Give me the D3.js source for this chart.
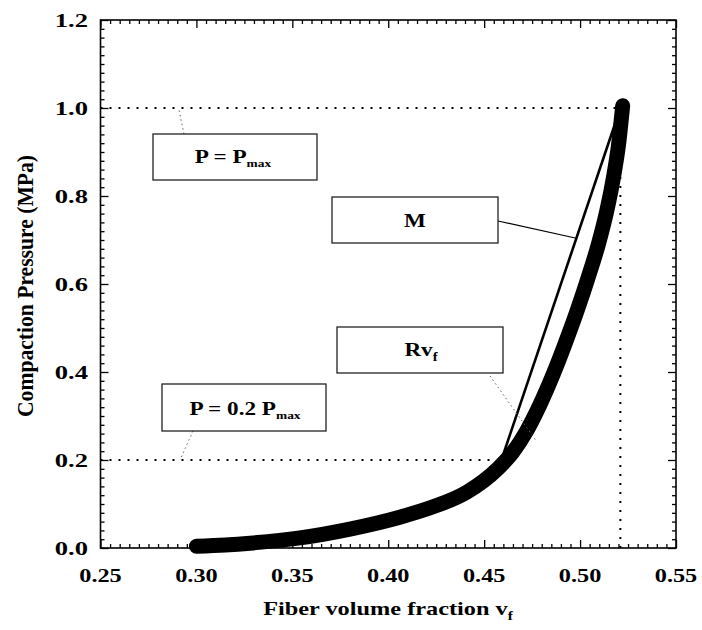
<!DOCTYPE html>
<html>
<head>
<meta charset="utf-8">
<script src="https://cdn.jsdelivr.net/npm/d3@7"></script>
<style>
  html, body { margin: 0; padding: 0; background: #fff; }
  svg { display: block; }
</style>
</head>
<body>
<svg id="chart" width="702" height="630"></svg>
<script>
// ---------------- data ----------------
const fiberVf = [0.300, 0.315, 0.328, 0.354, 0.380, 0.406, 0.423, 0.441, 0.457, 0.465, 0.472, 0.479, 0.486, 0.4925, 0.4985, 0.504, 0.5095, 0.514, 0.5175, 0.520, 0.5222];
const pressure = [0.004, 0.007, 0.011, 0.023, 0.043, 0.070, 0.093, 0.127, 0.180, 0.218, 0.265, 0.325, 0.395, 0.468, 0.540, 0.612, 0.690, 0.768, 0.845, 0.915, 1.005];
const fitVf = [0.459, 0.521];
const fitP = [0.2, 1.0];
const pMax = 1.0;
const pLow = 0.2;
const vfAtPmax = 0.521;
const vfAtPlow = 0.455;
const xTickValues = [0.25, 0.30, 0.35, 0.40, 0.45, 0.50, 0.55];
const yTickValues = [0.0, 0.2, 0.4, 0.6, 0.8, 1.0, 1.2];
const xTickLabels = ["0.25", "0.30", "0.35", "0.40", "0.45", "0.50", "0.55"];
const yTickLabels = ["0.0", "0.2", "0.4", "0.6", "0.8", "1.0", "1.2"];
const xTitle = "Fiber volume fraction v";
const xTitleSub = "f";
const yTitle = "Compaction Pressure (MPa)";

// ---------------- layout ----------------
const svg = d3.select("#chart");
const L = 100.5, R = 676, T = 20, B = 548;
const x = d3.scaleLinear().domain([0.25, 0.55]).range([L, R]);
const y = d3.scaleLinear().domain([0, 1.2]).range([B, T]);
const serif = "Liberation Serif, Times New Roman, serif";
const stretch = 1.28;

// minor ticks
const xMinor = d3.range(0, 61).map(i => 0.25 + i * 0.005).filter(v => !xTickValues.some(t => Math.abs(t - v) < 1e-9));
const yMinor = d3.range(0, 61).map(i => i * 0.02).filter(v => !yTickValues.some(t => Math.abs(t - v) < 1e-9));

function styleAxis(g) {
  g.select(".domain").remove();
  g.selectAll(".tick line").attr("stroke", "#000").attr("stroke-width", 1.3);
}

// bottom
svg.append("g").attr("transform", `translate(0,${B})`)
  .call(d3.axisBottom(x).tickValues(xMinor).tickSize(-4).tickFormat(""))
  .call(styleAxis);
svg.append("g").attr("transform", `translate(0,${B})`)
  .call(d3.axisBottom(x).tickValues(xTickValues).tickSize(-8).tickFormat(""))
  .call(styleAxis);
// top
svg.append("g").attr("transform", `translate(0,${T})`)
  .call(d3.axisTop(x).tickValues(xMinor).tickSize(-4).tickFormat(""))
  .call(styleAxis);
svg.append("g").attr("transform", `translate(0,${T})`)
  .call(d3.axisTop(x).tickValues(xTickValues).tickSize(-8).tickFormat(""))
  .call(styleAxis);
// left
svg.append("g").attr("transform", `translate(${L},0)`)
  .call(d3.axisLeft(y).tickValues(yMinor).tickSize(-4).tickFormat(""))
  .call(styleAxis);
svg.append("g").attr("transform", `translate(${L},0)`)
  .call(d3.axisLeft(y).tickValues(yTickValues).tickSize(-8).tickFormat(""))
  .call(styleAxis);
// right
svg.append("g").attr("transform", `translate(${R},0)`)
  .call(d3.axisRight(y).tickValues(yMinor).tickSize(-4).tickFormat(""))
  .call(styleAxis);
svg.append("g").attr("transform", `translate(${R},0)`)
  .call(d3.axisRight(y).tickValues(yTickValues).tickSize(-8).tickFormat(""))
  .call(styleAxis);

// frame
svg.append("rect").attr("x", L).attr("y", T).attr("width", R - L).attr("height", B - T)
  .attr("fill", "none").attr("stroke", "#000").attr("stroke-width", 1.6);

// tick labels
xTickValues.forEach((v, i) => {
  svg.append("text")
    .attr("transform", `translate(${x(v)},582) scale(${stretch},1)`)
    .attr("text-anchor", "middle")
    .attr("font-family", serif).attr("font-weight", "bold").attr("font-size", 19)
    .text(xTickLabels[i]);
});
yTickValues.forEach((v, i) => {
  svg.append("text")
    .attr("transform", `translate(88,${y(v) + 6.5}) scale(${1.4},1)`)
    .attr("text-anchor", "end")
    .attr("font-family", serif).attr("font-weight", "bold").attr("font-size", 19)
    .text(yTickLabels[i]);
});

// axis titles
const xt = svg.append("text")
  .attr("transform", `translate(388,615) scale(${stretch},1)`)
  .attr("text-anchor", "middle")
  .attr("font-family", serif).attr("font-weight", "bold").attr("font-size", 19);
xt.append("tspan").text(xTitle);
xt.append("tspan").attr("font-size", 12).attr("dy", 5).text(xTitleSub);

svg.append("text")
  .attr("transform", `translate(33,286) rotate(-90) scale(1,1.3)`)
  .attr("text-anchor", "middle")
  .attr("font-family", serif).attr("font-weight", "bold").attr("font-size", 18)
  .attr("textLength", 262).attr("lengthAdjust", "spacingAndGlyphs")
  .text(yTitle);

// reference dotted lines
const dotted = { stroke: "#000", "stroke-width": 2, "stroke-dasharray": "2,7" };
function applyAttrs(sel, a) { Object.entries(a).forEach(([k, v]) => sel.attr(k, v)); return sel; }
applyAttrs(svg.append("line").attr("x1", x(0.25)).attr("x2", x(vfAtPmax)).attr("y1", y(pMax)).attr("y2", y(pMax)), dotted);
applyAttrs(svg.append("line").attr("x1", x(0.25)).attr("x2", x(vfAtPlow)).attr("y1", y(pLow)).attr("y2", y(pLow)), dotted);
applyAttrs(svg.append("line").attr("x1", x(vfAtPmax)).attr("x2", x(vfAtPmax)).attr("y1", y(0)).attr("y2", y(pMax)), dotted);

// main data band
const pts = fiberVf.map((v, i) => [v, pressure[i]]);
svg.append("path")
  .attr("d", d3.line().x(d => x(d[0])).y(d => y(d[1])).curve(d3.curveMonotoneX)(pts))
  .attr("fill", "none").attr("stroke", "#000").attr("stroke-width", 15)
  .attr("stroke-linecap", "round").attr("stroke-linejoin", "round");

// fit line M
svg.append("line")
  .attr("x1", x(fitVf[0])).attr("y1", y(fitP[0]))
  .attr("x2", x(fitVf[1])).attr("y2", y(fitP[1]))
  .attr("stroke", "#000").attr("stroke-width", 2.6);

// annotation leaders
const faint = { stroke: "#666", "stroke-width": 1, "stroke-dasharray": "1.5,3" };
applyAttrs(svg.append("line").attr("x1", 184).attr("y1", 134).attr("x2", 179).attr("y2", 110), faint);
applyAttrs(svg.append("line").attr("x1", 193).attr("y1", 431).attr("x2", 180).attr("y2", 460), faint);
applyAttrs(svg.append("line").attr("x1", 490).attr("y1", 376).attr("x2", 537).attr("y2", 442), faint);
const mFrac = 0.63;
svg.append("line").attr("x1", 498).attr("y1", 221)
  .attr("x2", x(fitVf[0] + (fitVf[1] - fitVf[0]) * mFrac)).attr("y2", y(fitP[0] + (fitP[1] - fitP[0]) * mFrac))
  .attr("stroke", "#000").attr("stroke-width", 1.2);

// annotation boxes
const boxes = [
  { x: 153, y: 134, w: 164, h: 46, cx: 233, by: 163, parts: [["P = P", 19, 0], ["max", 11, 4]] },
  { x: 332, y: 197, w: 166, h: 46, cx: 415, by: 227, parts: [["M", 19, 0]] },
  { x: 337, y: 327, w: 166, h: 46, cx: 421, by: 356, parts: [["Rv", 19, 0], ["f", 12, 5]] },
  { x: 162, y: 384, w: 164, h: 47, cx: 245, by: 415, parts: [["P = 0.2 P", 19, 0], ["max", 11, 4]] }
];
boxes.forEach(b => {
  svg.append("rect").attr("x", b.x).attr("y", b.y).attr("width", b.w).attr("height", b.h)
    .attr("fill", "#fff").attr("stroke", "#222").attr("stroke-width", 1.3);
  const t = svg.append("text")
    .attr("transform", `translate(${b.cx},${b.by}) scale(1.22,1)`)
    .attr("text-anchor", "middle")
    .attr("font-family", serif).attr("font-weight", "bold");
  b.parts.forEach(p => t.append("tspan").attr("font-size", p[1]).attr("dy", p[2]).text(p[0]));
});
</script>
</body>
</html>
